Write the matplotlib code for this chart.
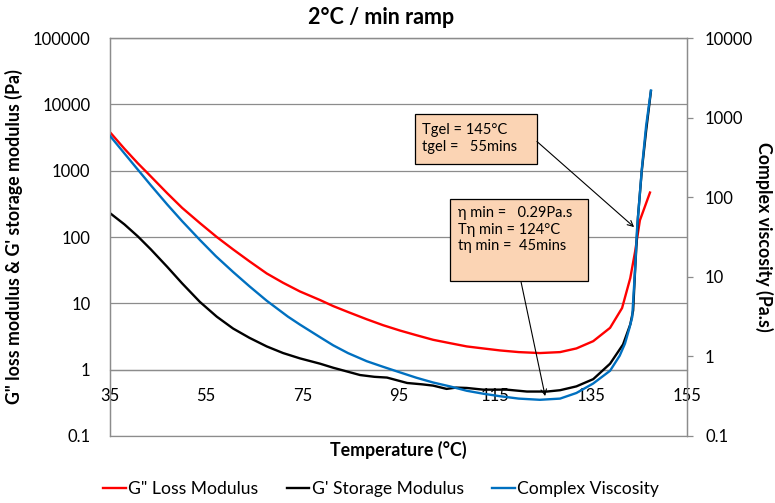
import matplotlib
matplotlib.use("Agg")
import matplotlib.pyplot as plt
from matplotlib.patches import Rectangle
from matplotlib.ticker import FixedLocator, FuncFormatter, NullLocator

plt.rcParams["font.family"] = ["Lato", "DejaVu Sans"]

# G'' loss modulus (Pa), left axis
loss_T = [35, 38, 40.8, 43, 46.9, 50, 53.7, 57.2, 60.6, 64, 67.6, 71, 74.5, 78.7,
          81.4, 84.5, 88.4, 91.8, 95.3, 98.7, 102.2, 105.7, 109.2, 112.6, 116.1,
          120, 124.4, 128.6, 132, 135.5, 139, 141.5, 143.2, 144.2, 145.2, 146.3, 147.3]
loss_G = [3800, 2140, 1290, 890, 457, 275, 162, 100, 65, 43, 28.2, 20.4, 15.1, 11.2,
          9.1, 7.4, 5.75, 4.68, 3.89, 3.31, 2.82, 2.51, 2.24, 2.09, 1.95,
          1.84, 1.78, 1.84, 2.09, 2.69, 4.27, 8.5, 24, 60, 178, 295, 468]

# G' storage modulus (Pa), left axis
stor_T = [35, 38, 40.8, 43.5, 46.9, 50, 53.7, 57.2, 60.6, 64, 67.6, 71, 74.5, 78.7,
          81.4, 84.5, 87, 90, 92.6, 96.8, 100, 102.2, 105, 107, 109.2, 112.6, 117.5,
          121.7, 125.9, 128.6, 132, 135.5, 139, 141.7, 143.2, 143.8, 144.2, 144.8,
          145.6, 146.5, 147.5]
stor_G = [229, 155, 102, 65, 35.5, 20, 10.5, 6.3, 4.17, 3.02, 2.24, 1.78, 1.48, 1.23,
          1.07, 0.93, 0.83, 0.78, 0.76, 0.63, 0.6, 0.575, 0.513, 0.537, 0.53, 0.5, 0.5,
          0.468, 0.468, 0.49, 0.56, 0.72, 1.23, 2.4, 4.8, 7.8, 31, 200,
          1000, 4000, 15800]

# complex viscosity (Pa.s), right axis
visc_T = [35, 38, 40.6, 43.5, 46.9, 50, 53.7, 57, 60.6, 64, 67.6, 72, 74.5, 78.7,
          81.4, 84.5, 88.4, 91.8, 95.3, 98.7, 102.2, 105.7, 109.2, 112.6, 116.1,
          120, 124.4, 128.6, 132, 135.5, 139, 141, 142.1, 143, 143.6, 144.2, 144.6,
          145.6, 146.5, 147.5]
visc_eta = [590, 355, 229, 141, 81, 50, 29, 18.2, 11.5, 7.6, 5.0, 3.16, 2.51, 1.74,
            1.38, 1.1, 0.87, 0.74, 0.63, 0.54, 0.47, 0.42, 0.37, 0.34, 0.316,
            0.295, 0.285, 0.295, 0.347, 0.457, 0.66, 1.02, 1.45, 2.24, 3.1, 12.3, 39,
            225, 790, 2190]

x_ticks = [35, 55, 75, 95, 115, 135, 155]
left_ticks = [0.1, 1, 10, 100, 1000, 10000, 100000]
right_ticks = [0.1, 1, 10, 100, 1000, 10000]

gel_text = "Tgel = 145°C\ntgel =   55mins"
min_text = "η min =   0.29Pa.s\nTη min = 124°C\ntη min =  45mins"
gel_point = (144.0, 141)
gel_from = (123.8, 2750)
min_point = (125.5, 0.40)
min_from = (120.5, 20.8)

RED = "#FF0000"
BLUE = "#0070C0"
GRID = "#8C8C8C"
BOX = "#FBD4B4"

fig = plt.figure(figsize=(7.75, 5.03), dpi=100)
ax = fig.add_axes([110 / 775, 67 / 503, 577 / 775, 398 / 503])
ax2 = ax.twinx()

ax.plot(loss_T, loss_G, color=RED, lw=1.7, label='G" Loss Modulus', zorder=3)
ax.plot(stor_T, stor_G, color="black", lw=1.7, label="G' Storage Modulus", zorder=3)
ax2.plot(visc_T, visc_eta, color=BLUE, lw=1.7, label="Complex Viscosity", zorder=4)

ax.set_xlim(35, 155)
ax.set_yscale("log")
ax.set_ylim(0.1, 100000)
ax2.set_yscale("log")
ax2.set_ylim(0.1, 10000)

fmt = FuncFormatter(lambda v, _: f"{v:g}")
ax.yaxis.set_major_locator(FixedLocator(left_ticks))
ax.yaxis.set_major_formatter(fmt)
ax.yaxis.set_minor_locator(NullLocator())
ax2.yaxis.set_major_locator(FixedLocator(right_ticks))
ax2.yaxis.set_major_formatter(fmt)
ax2.yaxis.set_minor_locator(NullLocator())
ax.xaxis.set_major_locator(FixedLocator(x_ticks))
ax.xaxis.set_major_formatter(fmt)

ax.grid(axis="y", color=GRID, lw=0.9)
ax.set_axisbelow(True)
ax.tick_params(axis="y", length=0, pad=14, labelsize=12)
ax.tick_params(axis="x", length=0, pad=13, labelsize=12)
ax2.tick_params(axis="y", length=4, width=0.9, color=GRID, pad=9, labelsize=12)

for a in (ax, ax2):
    for s in a.spines.values():
        s.set_color(GRID)
        s.set_linewidth(0.9)
ax.spines["bottom"].set_position(("data", 1))
ax2.spines["bottom"].set_visible(False)
ax.plot([0, 1], [0, 0], transform=ax.transAxes, color=GRID, lw=0.9, clip_on=False)

ax.set_ylabel('G" loss modulus & G\' storage modulus (Pa)', fontsize=12.8,
              fontweight="bold", labelpad=7)
ax2.set_ylabel("Complex viscosity (Pa.s)", fontsize=12.8, fontweight="bold",
               rotation=270, labelpad=14)
fig.text(398 / 775, 1 - 450 / 503, "Temperature (°C)", ha="center", va="center",
         fontsize=12.8, fontweight="bold")
fig.text(381 / 775, 1 - 17 / 503, "2°C / min ramp", ha="center", va="center",
         fontsize=15.5, fontweight="bold")

# annotation boxes
ax2.add_patch(Rectangle((0.529, 0.683), 0.211, 0.126, transform=ax.transAxes,
                        facecolor=BOX, edgecolor="black", lw=0.9, zorder=6))
ax2.text(0.541, 0.787, gel_text, transform=ax.transAxes, ha="left", va="top",
         fontsize=10.5, linespacing=1.25, zorder=7)
ax2.add_patch(Rectangle((0.589, 0.389), 0.239, 0.206, transform=ax.transAxes,
                        facecolor=BOX, edgecolor="black", lw=0.9, zorder=6))
ax2.text(0.603, 0.578, min_text, transform=ax.transAxes, ha="left", va="top",
         fontsize=10.5, linespacing=1.25, zorder=7)

for tip, start in ((gel_point, gel_from), (min_point, min_from)):
    ax2.annotate("", xy=ax2.transData.inverted().transform(ax.transData.transform(tip)),
                 xytext=ax2.transData.inverted().transform(ax.transData.transform(start)),
                 arrowprops=dict(arrowstyle="->", color="black", lw=0.8,
                                 shrinkA=0, shrinkB=0), zorder=8)

h1, l1 = ax.get_legend_handles_labels()
h2, l2 = ax2.get_legend_handles_labels()
fig.legend(h1 + h2, l1 + l2, loc="center left", bbox_to_anchor=(103 / 775, 1 - 489 / 503),
           ncol=3, frameon=False, fontsize=12.6, handlelength=1.3, handletextpad=0.15,
           columnspacing=1.6, borderpad=0, borderaxespad=0)

fig.savefig("out.png", dpi=100)
